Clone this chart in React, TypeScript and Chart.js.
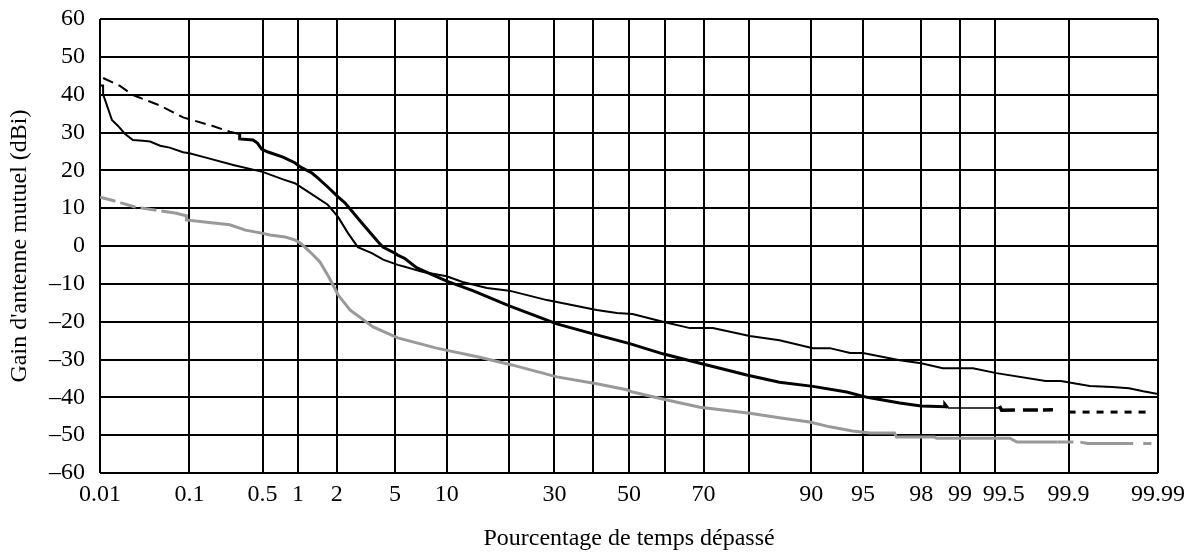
import React, { useEffect, useRef } from "react";
import { Chart, registerables, Scale } from "chart.js";

Chart.register(...registerables);

// ---------- data (percentage of time exceeded, gain in dBi) ----------
const X_TICKS = [0.01, 0.1, 0.5, 1, 2, 5, 10, 20, 30, 40, 50, 60, 70, 80, 90, 95, 98, 99, 99.5, 99.9, 99.99];
const X_TICK_LABELS = ["0.01", "0.1", "0.5", "1", "2", "5", "10", "", "30", "", "50", "", "70", "", "90", "95", "98", "99", "\u2002\u200999.5", "99.9", "99.99"];

// Curve A: thin black solid
const A_PCT = [0.01, 0.0109, 0.0109, 0.0115, 0.0139, 0.0163, 0.0198, 0.0244, 0.0317, 0.038, 0.049, 0.062, 0.086, 0.1, 0.15, 0.27, 0.5, 0.75, 0.94, 1.25, 1.71, 2.04, 2.41, 2.83, 3.53, 4.2, 5.2, 5.75, 7.4, 10, 12.1, 15.9, 20, 28.2, 41, 46.6, 51, 59.4, 66.6, 72.2, 80.2, 85.5, 90.2, 92.1, 94, 95, 97.15, 98, 98.63, 99.22, 99.51, 99.83, 99.88, 99.94, 99.966, 99.978, 99.985, 99.99];
const A_GAIN = [42.4, 42.4, 40, 38.6, 33.3, 31.8, 29.6, 28, 27.8, 27.6, 26.5, 26, 24.8, 24.5, 23.3, 21.4, 19.6, 17.6, 16.6, 14, 10.9, 7.7, 3.4, -0.3, -1.9, -3.6, -5, -5.5, -6.9, -8, -9.5, -11.1, -11.8, -14.3, -16.9, -17.7, -18, -20, -21.7, -21.7, -23.8, -24.9, -27, -27, -28.3, -28.3, -30.2, -31, -32.3, -32.3, -33.6, -35.7, -35.7, -37, -37.3, -37.6, -38.4, -39.1];

// Curve B: black, dashed head, thick stepped body, tails
const B_HEAD_PCT = [0.0109, 0.0173, 0.0244, 0.049, 0.086, 0.172, 0.25, 0.31];
const B_HEAD_GAIN = [44.4, 42.3, 39.9, 37.1, 34, 31.7, 30.2, 29.6];
const B_PCT = [0.31, 0.31, 0.41, 0.45, 0.49, 0.55, 0.75, 0.94, 1.04, 1.29, 1.41, 1.71, 2.04, 2.29, 3.02, 3.88, 4.18, 5.0, 5.2, 5.75, 6.8, 10, 13.6, 20, 30.6, 41, 50.2, 59.4, 69.1, 79.6, 85.5, 90.2, 93.7, 95.3, 97.15, 98, 98.68, 98.68, 98.75];
const B_GAIN = [29.6, 28.3, 28, 27.2, 25.6, 24.9, 23.5, 22, 20.9, 19.3, 18.2, 15.6, 13, 11.4, 6.1, 1.1, -0.3, -1.9, -2.4, -3.3, -5.8, -9.3, -11.8, -15.8, -20.6, -23.5, -25.8, -28.5, -31, -34.1, -36, -37.1, -38.6, -40, -41.5, -42.3, -42.5, -41.8, -42.8];
const B_T1_PCT = [98.75, 99.54];
const B_T1_GAIN = [-42.8, -42.8];
const B_T2_PCT = [99.54, 99.56, 99.88];
const B_T2_GAIN = [-42.3, -43.4, -43.3];
const B_T3_PCT = [99.9, 99.988];
const B_T3_GAIN = [-43.9, -43.9];

// Curve C: grey
const C_HEAD_PCT = [0.01, 0.0139, 0.0257, 0.0707];
const C_HEAD_GAIN = [12.9, 12.1, 10.3, 8.7];
const C_PCT = [0.0707, 0.086, 0.093, 0.093, 0.15, 0.25, 0.35, 0.49, 0.58, 0.78, 0.94, 1.04, 1.25, 1.49, 1.71, 1.87, 2.04, 2.49, 3.6, 5.2, 8.8, 14.7, 20.7, 30.6, 41, 49.4, 51, 60.5, 69.1, 80.2, 86, 89.8, 92.1, 94.2, 95.5, 96.9, 97.0, 98.42, 98.47, 99.63, 99.68, 99.87];
const C_GAIN = [8.7, 8.2, 8.0, 6.9, 6.3, 5.6, 4.2, 3.4, 2.9, 2.4, 1.6, 0.8, -1.6, -4.2, -7.7, -10.3, -12.9, -16.9, -21.4, -24.3, -27, -29.4, -31.5, -34.6, -36.4, -38, -38.6, -40.7, -42.6, -44.2, -45.5, -46.5, -47.8, -48.9, -49.4, -49.4, -50.5, -50.5, -50.8, -50.8, -51.8, -51.8];
const C_TAIL_PCT = [99.87, 99.923, 99.937, 99.988];
const C_TAIL_GAIN = [-51.8, -51.8, -52.2, -52.2];

// ---------- normal probability scale ----------
function probit(p: number): number {
  const a = [-3.969683028665376e1, 2.209460984245205e2, -2.759285104469687e2, 1.38357751867269e2, -3.066479806614716e1, 2.506628277459239];
  const b = [-5.447609879822406e1, 1.615858368580409e2, -1.556989798598866e2, 6.680131188771972e1, -1.328068155288572e1];
  const c = [-7.784894002430293e-3, -3.223964580411365e-1, -2.400758277161838, -2.549732539343734, 4.374664141464968, 2.938163982698783];
  const d = [7.784695709041462e-3, 3.224671290700398e-1, 2.445134137142996, 3.754408661907416];
  const pl = 0.02425;
  if (p < pl) {
    const q = Math.sqrt(-2 * Math.log(p));
    return (((((c[0] * q + c[1]) * q + c[2]) * q + c[3]) * q + c[4]) * q + c[5]) / ((((d[0] * q + d[1]) * q + d[2]) * q + d[3]) * q + 1);
  }
  if (p <= 1 - pl) {
    const q = p - 0.5;
    const r = q * q;
    return ((((((a[0] * r + a[1]) * r + a[2]) * r + a[3]) * r + a[4]) * r + a[5]) * q) / (((((b[0] * r + b[1]) * r + b[2]) * r + b[3]) * r + b[4]) * r + 1);
  }
  const q = Math.sqrt(-2 * Math.log(1 - p));
  return -(((((c[0] * q + c[1]) * q + c[2]) * q + c[3]) * q + c[4]) * q + c[5]) / ((((d[0] * q + d[1]) * q + d[2]) * q + d[3]) * q + 1);
}

function normCdf(z: number): number {
  const t = 1 / (1 + 0.2316419 * Math.abs(z));
  const dd = 0.3989423 * Math.exp((-z * z) / 2);
  const p = dd * t * (0.3193815 + t * (-0.3565638 + t * (1.781478 + t * (-1.821256 + t * 1.330274))));
  return z > 0 ? 1 - p : p;
}

class ProbitScale extends (Scale as any) {
  static id = "probit";
  static defaults = {};
  determineDataLimits() {
    this.min = this.options.min;
    this.max = this.options.max;
  }
  buildTicks() {
    return X_TICKS.map((v) => ({ value: v }));
  }
  getLabelForValue(v: number) {
    return String(v);
  }
  configure() {
    super.configure();
    this._zStart = probit(this.min / 100);
    this._zRange = probit(this.max / 100) - this._zStart;
  }
  getPixelForValue(v: number) {
    return this.getPixelForDecimal((probit(v / 100) - this._zStart) / this._zRange);
  }
  getValueForPixel(px: number) {
    const dec = this.getDecimalForPixel(px);
    return normCdf(this._zStart + dec * this._zRange) * 100;
  }
}
Chart.register(ProbitScale as any);

const zip = (xs: number[], ys: number[]) => xs.map((x, i) => ({ x, y: ys[i] }));

const FONT_FAMILY = "'Liberation Serif', 'Times New Roman', serif";
const FONT_SIZE = 24;
const BLACK = "#000000";
const GREY = "#999999";

export default function App() {
  const ref = useRef<HTMLCanvasElement | null>(null);

  useEffect(() => {
    if (!ref.current) return;
    const line = (data: any[], color: string, width: number, dash: number[] = []) => ({
      data,
      borderColor: color,
      backgroundColor: color,
      borderWidth: width,
      borderDash: dash,
      pointRadius: 0,
      tension: 0,
      fill: false,
    });
    const chart = new Chart(ref.current, {
      type: "line",
      data: {
        datasets: [
          line(zip(C_HEAD_PCT, C_HEAD_GAIN), GREY, 3, [16, 5]),
          line(zip(C_PCT, C_GAIN), GREY, 3),
          line(zip(C_TAIL_PCT, C_TAIL_GAIN), GREY, 3, [16, 7, 53, 10, 11, 100]),
          line(zip(A_PCT, A_GAIN), BLACK, 2),
          line(zip(B_HEAD_PCT, B_HEAD_GAIN), BLACK, 2, [11, 6]),
          line(zip(B_PCT, B_GAIN), BLACK, 3),
          line(zip(B_T1_PCT, B_T1_GAIN), BLACK, 1.5),
          line(zip(B_T2_PCT, B_T2_GAIN), BLACK, 3.5, [18, 8, 15, 5, 10, 100]),
          line(zip(B_T3_PCT, B_T3_GAIN), BLACK, 3, [7, 7]),
        ],
      },
      options: {
        responsive: false,
        animation: false,
        events: [],
        layout: { padding: { left: 0, right: 39, top: 19, bottom: 0 } },
        plugins: { legend: { display: false }, tooltip: { enabled: false } },
        scales: {
          x: {
            type: "probit" as any,
            position: "bottom",
            min: 0.01,
            max: 99.99,
            grid: { color: BLACK, lineWidth: 2, drawTicks: false },
            border: { display: false },
            ticks: {
              autoSkip: false,
              maxRotation: 0,
              minRotation: 0,
              padding: 7,
              color: BLACK,
              font: { family: FONT_FAMILY, size: FONT_SIZE },
              callback: (_v: any, i: number) => X_TICK_LABELS[i],
            },
            title: {
              display: true,
              text: "Pourcentage de temps dépassé",
              color: BLACK,
              font: { family: FONT_FAMILY, size: FONT_SIZE },
              padding: { top: 0, bottom: 2 },
            },
            afterFit: (s: any) => {
              s.height = 82;
              s.paddingLeft = 0;
              s.paddingRight = 0;
            },
          } as any,
          y: {
            type: "linear",
            min: -60,
            max: 60,
            grid: { color: BLACK, lineWidth: 2, drawTicks: false },
            border: { display: false },
            ticks: {
              stepSize: 10,
              padding: 15,
              color: BLACK,
              font: { family: FONT_FAMILY, size: FONT_SIZE },
              callback: (v: any) => (Number(v) < 0 ? "\u2013" + Math.abs(Number(v)) : String(v)),
            },
            title: {
              display: true,
              text: "Gain d'antenne mutuel (dBi)",
              color: BLACK,
              font: { family: FONT_FAMILY, size: FONT_SIZE },
              padding: { top: 5, bottom: 0 },
            },
            afterFit: (s: any) => {
              s.width = 100;
              s.paddingTop = 0;
              s.paddingBottom = 0;
            },
          },
        },
      },
    });
    return () => chart.destroy();
  }, []);

  return (
    <div style={{ position: "fixed", left: 0, top: 0, width: 1197, height: 555, background: "#fff" }}>
      <canvas ref={ref} width={1197} height={555} style={{ display: "block" }} />
    </div>
  );
}
